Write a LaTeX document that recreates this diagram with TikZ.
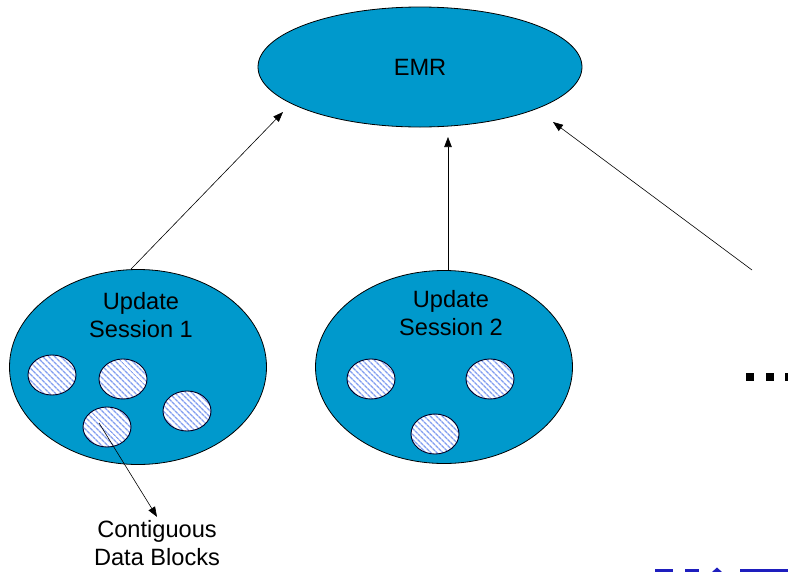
\documentclass[tikz,border=0pt]{standalone}
\usepackage{fontspec}
\setmainfont{Liberation Sans}
\usetikzlibrary{shapes.geometric,patterns.meta,arrows.meta}
\definecolor{sess}{RGB}{0,153,204}
\definecolor{hatch}{RGB}{130,158,240}
\definecolor{logo}{RGB}{30,30,190}
\begin{document}
\begin{tikzpicture}[x=1pt,y=-1pt,
  big/.style={ellipse,draw=black,line width=0.8pt,fill=sess,inner sep=0pt},
  blk/.style={ellipse,draw=black!85!blue,line width=0.9pt,minimum width=48pt,minimum height=40pt,inner sep=0pt,
    preaction={fill=white},pattern={Lines[angle=-45,distance=4pt,line width=1.5pt]},pattern color=hatch},
  lbl/.style={font=\fontsize{23.6}{28.5}\selectfont,align=center,inner sep=0pt},
  arr/.style={-{Triangle[length=10pt,width=7.5pt]},line width=0.6pt}]
\useasboundingbox (0,0) rectangle (788,571);
\fill[white] (0,0) rectangle (788,571);
% main ellipses
\node[big,minimum width=324pt,minimum height=120pt,font=\fontsize{23.6}{28}\selectfont] (emr) at (420,67) {EMR};
\node[big,minimum width=257pt,minimum height=195pt] (s1) at (138,367) {};
\node[big,minimum width=257pt,minimum height=193pt] (s2) at (444,367) {};
\node[lbl] (l1) at (141,315) {Update\\Session 1};
\node[lbl] (l2) at (451,313) {Update\\Session 2};
% data blocks
\node[blk] (a) at (52,375) {};
\node[blk] (b) at (123,379) {};
\node[blk] (c) at (107,427) {};
\node[blk] (d) at (187,411) {};
\node[blk] (e) at (371,379) {};
\node[blk] (f) at (490,379) {};
\node[blk] (g) at (435,434) {};
% label
\node[lbl] (cdb) at (157,543) {Contiguous\\Data Blocks};
% arrows
\coordinate (t1) at (283,112);
\coordinate (t2) at (448,137);
\coordinate (r0) at (752,270);
\coordinate (t3) at (553,122);
\draw[arr] ([xshift=-7pt]s1.north) -- (t1);
\draw[arr] (s2.north -| t2) -- (t2);
\draw[arr] (r0) -- (t3);
\draw[arr] ([shift={(-8,-4)}]c.center) -- ([yshift=3pt]cdb.north);
% ellipsis dots
\fill (746,373) rectangle (754,381);
\fill (766,373) rectangle (774,381);
\fill (785,373) rectangle (793,381);
% cropped logo fragment
\fill[logo] (655,569) rectangle (673,572);
\fill[logo] (685,569) rectangle (699,572);
\fill[logo] (712,572) -- (717,567.5) -- (722,572) -- cycle;
\fill[logo] (740,569) rectangle (788,572);
\end{tikzpicture}
\end{document}
